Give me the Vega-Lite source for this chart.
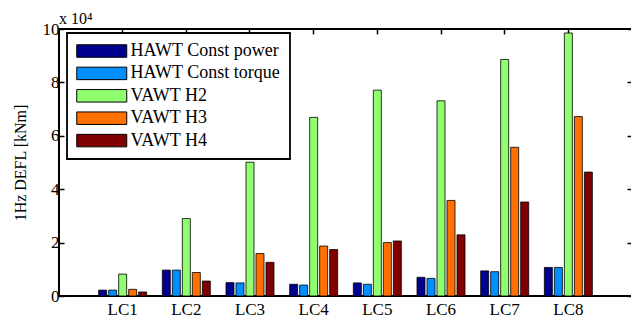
{
  "$schema": "https://vega.github.io/schema/vega-lite/v6.json",
  "width": 573,
  "height": 267,
  "autosize": {"type": "none"},
  "padding": {"left": 59, "top": 29, "right": 0, "bottom": 31},
  "background": "white",
  "title": {
    "text": "x 10⁴",
    "anchor": "start",
    "frame": "group",
    "font": "Times New Roman, Liberation Serif, serif",
    "fontSize": 16,
    "fontWeight": "normal",
    "color": "black",
    "offset": -5,
    "dy": 2
  },
  "data": {
    "values": [
      {"lc": "LC1", "series": "HAWT Const power", "v": 0.22},
      {"lc": "LC1", "series": "HAWT Const torque", "v": 0.22},
      {"lc": "LC1", "series": "VAWT H2", "v": 0.82},
      {"lc": "LC1", "series": "VAWT H3", "v": 0.25},
      {"lc": "LC1", "series": "VAWT H4", "v": 0.15},
      {"lc": "LC2", "series": "HAWT Const power", "v": 0.97},
      {"lc": "LC2", "series": "HAWT Const torque", "v": 0.97},
      {"lc": "LC2", "series": "VAWT H2", "v": 2.9},
      {"lc": "LC2", "series": "VAWT H3", "v": 0.88},
      {"lc": "LC2", "series": "VAWT H4", "v": 0.56},
      {"lc": "LC3", "series": "HAWT Const power", "v": 0.5},
      {"lc": "LC3", "series": "HAWT Const torque", "v": 0.49},
      {"lc": "LC3", "series": "VAWT H2", "v": 5.01},
      {"lc": "LC3", "series": "VAWT H3", "v": 1.59},
      {"lc": "LC3", "series": "VAWT H4", "v": 1.26},
      {"lc": "LC4", "series": "HAWT Const power", "v": 0.44},
      {"lc": "LC4", "series": "HAWT Const torque", "v": 0.41},
      {"lc": "LC4", "series": "VAWT H2", "v": 6.69},
      {"lc": "LC4", "series": "VAWT H3", "v": 1.87},
      {"lc": "LC4", "series": "VAWT H4", "v": 1.74},
      {"lc": "LC5", "series": "HAWT Const power", "v": 0.49},
      {"lc": "LC5", "series": "HAWT Const torque", "v": 0.44},
      {"lc": "LC5", "series": "VAWT H2", "v": 7.71},
      {"lc": "LC5", "series": "VAWT H3", "v": 2.0},
      {"lc": "LC5", "series": "VAWT H4", "v": 2.06},
      {"lc": "LC6", "series": "HAWT Const power", "v": 0.7},
      {"lc": "LC6", "series": "HAWT Const torque", "v": 0.66},
      {"lc": "LC6", "series": "VAWT H2", "v": 7.31},
      {"lc": "LC6", "series": "VAWT H3", "v": 3.58},
      {"lc": "LC6", "series": "VAWT H4", "v": 2.29},
      {"lc": "LC7", "series": "HAWT Const power", "v": 0.94},
      {"lc": "LC7", "series": "HAWT Const torque", "v": 0.91},
      {"lc": "LC7", "series": "VAWT H2", "v": 8.86},
      {"lc": "LC7", "series": "VAWT H3", "v": 5.57},
      {"lc": "LC7", "series": "VAWT H4", "v": 3.52},
      {"lc": "LC8", "series": "HAWT Const power", "v": 1.07},
      {"lc": "LC8", "series": "HAWT Const torque", "v": 1.07},
      {"lc": "LC8", "series": "VAWT H2", "v": 9.85},
      {"lc": "LC8", "series": "VAWT H3", "v": 6.72},
      {"lc": "LC8", "series": "VAWT H4", "v": 4.64}
    ]
  },
  "layer": [
    {
      "mark": {"type": "bar", "stroke": "black", "strokeWidth": 0.8},
      "encoding": {
        "x": {
          "field": "lc",
          "type": "nominal",
          "scale": {"paddingInner": 0.2147, "paddingOuter": 0.607},
          "axis": {"orient": "bottom", "ticks": false, "labelAngle": 0, "labelPadding": 5, "title": null}
        },
        "xOffset": {
          "field": "series",
          "type": "nominal",
          "sort": ["HAWT Const power", "HAWT Const torque", "VAWT H2", "VAWT H3", "VAWT H4"],
          "scale": {"paddingInner": 0.2, "paddingOuter": 0.1}
        },
        "y": {
          "field": "v",
          "type": "quantitative",
          "scale": {"domain": [0, 10], "nice": false},
          "axis": {
            "orient": "left",
            "values": [0, 2, 4, 6, 8, 10],
            "format": "d",
            "tickSize": -5,
            "labelPadding": 5,
            "title": "1Hz DEFL [kNm]",
            "titleFontSize": 16,
            "titleFontWeight": "normal",
            "titleColor": "black",
            "titlePadding": 14
          }
        },
        "color": {
          "field": "series",
          "type": "nominal",
          "sort": ["HAWT Const power", "HAWT Const torque", "VAWT H2", "VAWT H3", "VAWT H4"],
          "scale": {
            "domain": ["HAWT Const power", "HAWT Const torque", "VAWT H2", "VAWT H3", "VAWT H4"],
            "range": ["#00008F", "#008FFF", "#8FFF70", "#FF7000", "#800000"]
          }
        }
      }
    },
    {
      "mark": {"type": "bar", "opacity": 0},
      "encoding": {
        "x": {
          "field": "lc",
          "type": "nominal",
          "axis": {"orient": "top", "labels": false, "tickSize": -5, "title": null}
        },
        "xOffset": {
          "field": "series",
          "type": "nominal",
          "sort": ["HAWT Const power", "HAWT Const torque", "VAWT H2", "VAWT H3", "VAWT H4"]
        },
        "y": {
          "field": "v",
          "type": "quantitative",
          "axis": {"orient": "right", "values": [0, 2, 4, 6, 8, 10], "labels": false, "tickSize": -5, "title": null}
        },
        "color": {
          "field": "series",
          "type": "nominal",
          "sort": ["HAWT Const power", "HAWT Const torque", "VAWT H2", "VAWT H3", "VAWT H4"]
        }
      }
    }
  ],
  "resolve": {"axis": {"x": "independent", "y": "independent"}},
  "config": {
    "font": "Times New Roman, Liberation Serif, serif",
    "view": {"stroke": "black", "strokeWidth": 2},
    "axis": {
      "domain": false,
      "grid": false,
      "labelFont": "Times New Roman, Liberation Serif, serif",
      "labelFontSize": 17,
      "labelColor": "black",
      "tickColor": "black",
      "tickWidth": 1.5,
      "titleFont": "Times New Roman, Liberation Serif, serif"
    },
    "legend": {
      "orient": "none",
      "legendX": 8,
      "legendY": 4,
      "title": null,
      "strokeColor": "black",
      "strokeWidth": 1.8,
      "fillColor": "white",
      "padding": 9,
      "symbolType": "M-1.32,-1H6.68V1H-1.32Z",
      "symbolSize": 156.25,
      "symbolStrokeColor": "black",
      "symbolStrokeWidth": 1,
      "symbolOpacity": 1,
      "labelFont": "Times New Roman, Liberation Serif, serif",
      "labelFontSize": 18,
      "labelColor": "black",
      "labelOffset": 36.5,
      "rowPadding": 4.4,
      "labelLimit": 300
    }
  }
}
